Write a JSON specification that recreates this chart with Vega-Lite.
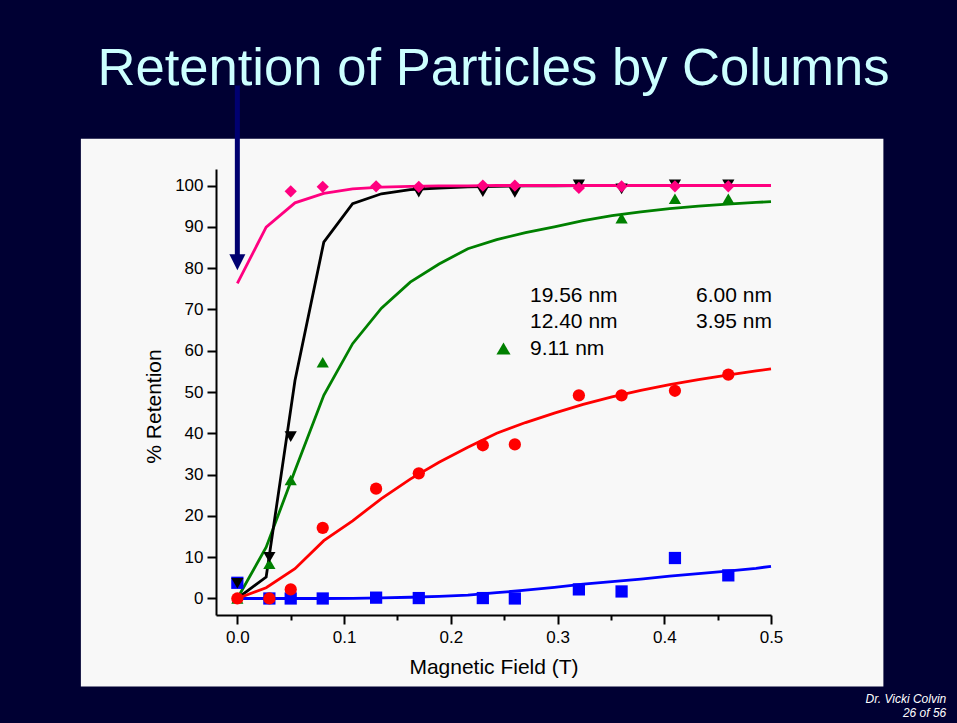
{
  "$schema": "https://vega.github.io/schema/vega-lite/v6.json",
  "width": 555,
  "height": 446,
  "autosize": {"type": "none"},
  "padding": {"left": 216, "top": 169, "right": 186, "bottom": 108},
  "background": "#000033",
  "title": {"text": "Retention of Particles by Columns", "fontSize": 52.6, "font": "Liberation Sans", "fontWeight": "normal", "color": "#ccffff", "anchor": "middle", "frame": "group", "baseline": "alphabetic", "offset": -55},
  "config": {
    "view": {"stroke": null},
    "axis": {"zindex": 1, "labelFont": "Liberation Sans", "titleFont": "Liberation Sans", "labelColor": "#000000", "titleColor": "#000000", "domainColor": "#000000", "tickColor": "#000000", "domainWidth": 2, "tickWidth": 2, "grid": false, "labelFontSize": 17, "titleFontSize": 21, "titleFontWeight": "normal", "labelOverlap": false, "labelFlush": false},
    "legend": {"zindex": 1}
  },
  "datasets": {
    "pts": [
      {"s": "3.95 nm", "x": 0, "y": 3.8},
      {"s": "3.95 nm", "x": 0.03, "y": 0},
      {"s": "3.95 nm", "x": 0.05, "y": 0},
      {"s": "3.95 nm", "x": 0.08, "y": 0},
      {"s": "3.95 nm", "x": 0.13, "y": 0.2},
      {"s": "3.95 nm", "x": 0.17, "y": 0.1},
      {"s": "3.95 nm", "x": 0.23, "y": 0.1},
      {"s": "3.95 nm", "x": 0.26, "y": 0},
      {"s": "3.95 nm", "x": 0.32, "y": 2.2},
      {"s": "3.95 nm", "x": 0.36, "y": 1.7},
      {"s": "3.95 nm", "x": 0.41, "y": 9.8},
      {"s": "3.95 nm", "x": 0.46, "y": 5.6},
      {"s": "9.11 nm", "x": 0, "y": 0},
      {"s": "9.11 nm", "x": 0.03, "y": 8.4},
      {"s": "9.11 nm", "x": 0.05, "y": 28.7},
      {"s": "9.11 nm", "x": 0.08, "y": 57.2},
      {"s": "9.11 nm", "x": 0.36, "y": 92.1},
      {"s": "9.11 nm", "x": 0.41, "y": 96.8},
      {"s": "9.11 nm", "x": 0.46, "y": 96.8},
      {"s": "12.40 nm", "x": 0, "y": 3.7},
      {"s": "12.40 nm", "x": 0.03, "y": 10.0},
      {"s": "12.40 nm", "x": 0.05, "y": 39.2},
      {"s": "12.40 nm", "x": 0.17, "y": 98.4},
      {"s": "12.40 nm", "x": 0.23, "y": 98.5},
      {"s": "12.40 nm", "x": 0.26, "y": 98.3},
      {"s": "12.40 nm", "x": 0.32, "y": 100.2},
      {"s": "12.40 nm", "x": 0.36, "y": 99.2},
      {"s": "12.40 nm", "x": 0.41, "y": 100.2},
      {"s": "12.40 nm", "x": 0.46, "y": 100.2},
      {"s": "6.00 nm", "x": 0, "y": 0},
      {"s": "6.00 nm", "x": 0.03, "y": 0},
      {"s": "6.00 nm", "x": 0.05, "y": 2.2},
      {"s": "6.00 nm", "x": 0.08, "y": 17.1},
      {"s": "6.00 nm", "x": 0.13, "y": 26.6},
      {"s": "6.00 nm", "x": 0.17, "y": 30.3},
      {"s": "6.00 nm", "x": 0.23, "y": 37.1},
      {"s": "6.00 nm", "x": 0.26, "y": 37.3},
      {"s": "6.00 nm", "x": 0.32, "y": 49.2},
      {"s": "6.00 nm", "x": 0.36, "y": 49.2},
      {"s": "6.00 nm", "x": 0.41, "y": 50.3},
      {"s": "6.00 nm", "x": 0.46, "y": 54.2},
      {"s": "19.56 nm", "x": 0.05, "y": 98.6},
      {"s": "19.56 nm", "x": 0.08, "y": 99.7},
      {"s": "19.56 nm", "x": 0.13, "y": 99.8},
      {"s": "19.56 nm", "x": 0.17, "y": 99.7},
      {"s": "19.56 nm", "x": 0.23, "y": 100},
      {"s": "19.56 nm", "x": 0.26, "y": 100},
      {"s": "19.56 nm", "x": 0.32, "y": 99.4},
      {"s": "19.56 nm", "x": 0.36, "y": 99.8},
      {"s": "19.56 nm", "x": 0.41, "y": 99.8},
      {"s": "19.56 nm", "x": 0.46, "y": 99.8}
    ],
    "fit": [
      {"s": "3.95 nm", "x": 0, "y": 0},
      {"s": "3.95 nm", "x": 0.027, "y": 0},
      {"s": "3.95 nm", "x": 0.054, "y": 0},
      {"s": "3.95 nm", "x": 0.081, "y": 0},
      {"s": "3.95 nm", "x": 0.108, "y": 0.05},
      {"s": "3.95 nm", "x": 0.135, "y": 0.15},
      {"s": "3.95 nm", "x": 0.162, "y": 0.3},
      {"s": "3.95 nm", "x": 0.189, "y": 0.5},
      {"s": "3.95 nm", "x": 0.216, "y": 0.8},
      {"s": "3.95 nm", "x": 0.243, "y": 1.4},
      {"s": "3.95 nm", "x": 0.27, "y": 2.0},
      {"s": "3.95 nm", "x": 0.297, "y": 2.7},
      {"s": "3.95 nm", "x": 0.324, "y": 3.5},
      {"s": "3.95 nm", "x": 0.351, "y": 4.1},
      {"s": "3.95 nm", "x": 0.378, "y": 4.7},
      {"s": "3.95 nm", "x": 0.405, "y": 5.4},
      {"s": "3.95 nm", "x": 0.432, "y": 6.0},
      {"s": "3.95 nm", "x": 0.459, "y": 6.6},
      {"s": "3.95 nm", "x": 0.486, "y": 7.3},
      {"s": "3.95 nm", "x": 0.5, "y": 7.8},
      {"s": "9.11 nm", "x": 0, "y": 0},
      {"s": "9.11 nm", "x": 0.027, "y": 12.4},
      {"s": "9.11 nm", "x": 0.054, "y": 31.0},
      {"s": "9.11 nm", "x": 0.081, "y": 49.2},
      {"s": "9.11 nm", "x": 0.108, "y": 61.7},
      {"s": "9.11 nm", "x": 0.135, "y": 70.3},
      {"s": "9.11 nm", "x": 0.162, "y": 76.6},
      {"s": "9.11 nm", "x": 0.189, "y": 81.0},
      {"s": "9.11 nm", "x": 0.216, "y": 84.7},
      {"s": "9.11 nm", "x": 0.243, "y": 86.9},
      {"s": "9.11 nm", "x": 0.27, "y": 88.6},
      {"s": "9.11 nm", "x": 0.297, "y": 90.0},
      {"s": "9.11 nm", "x": 0.324, "y": 91.5},
      {"s": "9.11 nm", "x": 0.351, "y": 92.7},
      {"s": "9.11 nm", "x": 0.378, "y": 93.6},
      {"s": "9.11 nm", "x": 0.405, "y": 94.4},
      {"s": "9.11 nm", "x": 0.432, "y": 95.0},
      {"s": "9.11 nm", "x": 0.459, "y": 95.5},
      {"s": "9.11 nm", "x": 0.486, "y": 95.9},
      {"s": "9.11 nm", "x": 0.5, "y": 96.1},
      {"s": "12.40 nm", "x": 0, "y": 0},
      {"s": "12.40 nm", "x": 0.027, "y": 5.2},
      {"s": "12.40 nm", "x": 0.054, "y": 52.8},
      {"s": "12.40 nm", "x": 0.081, "y": 86.3},
      {"s": "12.40 nm", "x": 0.108, "y": 95.6},
      {"s": "12.40 nm", "x": 0.135, "y": 98.0},
      {"s": "12.40 nm", "x": 0.162, "y": 99.0},
      {"s": "12.40 nm", "x": 0.189, "y": 99.4},
      {"s": "12.40 nm", "x": 0.216, "y": 99.7},
      {"s": "12.40 nm", "x": 0.243, "y": 99.8},
      {"s": "12.40 nm", "x": 0.27, "y": 99.9},
      {"s": "12.40 nm", "x": 0.297, "y": 99.9},
      {"s": "12.40 nm", "x": 0.324, "y": 100},
      {"s": "12.40 nm", "x": 0.351, "y": 100},
      {"s": "12.40 nm", "x": 0.378, "y": 100},
      {"s": "12.40 nm", "x": 0.405, "y": 100},
      {"s": "12.40 nm", "x": 0.432, "y": 100},
      {"s": "12.40 nm", "x": 0.459, "y": 100},
      {"s": "12.40 nm", "x": 0.486, "y": 100},
      {"s": "12.40 nm", "x": 0.5, "y": 100},
      {"s": "6.00 nm", "x": 0, "y": 0},
      {"s": "6.00 nm", "x": 0.027, "y": 2.6},
      {"s": "6.00 nm", "x": 0.054, "y": 7.2},
      {"s": "6.00 nm", "x": 0.081, "y": 14.0},
      {"s": "6.00 nm", "x": 0.108, "y": 18.8},
      {"s": "6.00 nm", "x": 0.135, "y": 24.2},
      {"s": "6.00 nm", "x": 0.162, "y": 28.9},
      {"s": "6.00 nm", "x": 0.189, "y": 33.0},
      {"s": "6.00 nm", "x": 0.216, "y": 36.6},
      {"s": "6.00 nm", "x": 0.243, "y": 40.0},
      {"s": "6.00 nm", "x": 0.27, "y": 42.6},
      {"s": "6.00 nm", "x": 0.297, "y": 44.9},
      {"s": "6.00 nm", "x": 0.324, "y": 47.0},
      {"s": "6.00 nm", "x": 0.351, "y": 48.8},
      {"s": "6.00 nm", "x": 0.378, "y": 50.4},
      {"s": "6.00 nm", "x": 0.405, "y": 51.8},
      {"s": "6.00 nm", "x": 0.432, "y": 53.0},
      {"s": "6.00 nm", "x": 0.459, "y": 54.1},
      {"s": "6.00 nm", "x": 0.486, "y": 55.1},
      {"s": "6.00 nm", "x": 0.5, "y": 55.6},
      {"s": "19.56 nm", "x": 0, "y": 76.3},
      {"s": "19.56 nm", "x": 0.027, "y": 89.9},
      {"s": "19.56 nm", "x": 0.054, "y": 95.8},
      {"s": "19.56 nm", "x": 0.081, "y": 98.1},
      {"s": "19.56 nm", "x": 0.108, "y": 99.2},
      {"s": "19.56 nm", "x": 0.135, "y": 99.6},
      {"s": "19.56 nm", "x": 0.162, "y": 99.8},
      {"s": "19.56 nm", "x": 0.189, "y": 99.9},
      {"s": "19.56 nm", "x": 0.216, "y": 99.9},
      {"s": "19.56 nm", "x": 0.243, "y": 100},
      {"s": "19.56 nm", "x": 0.27, "y": 100},
      {"s": "19.56 nm", "x": 0.297, "y": 100},
      {"s": "19.56 nm", "x": 0.324, "y": 100},
      {"s": "19.56 nm", "x": 0.351, "y": 100},
      {"s": "19.56 nm", "x": 0.378, "y": 100},
      {"s": "19.56 nm", "x": 0.405, "y": 100},
      {"s": "19.56 nm", "x": 0.432, "y": 100},
      {"s": "19.56 nm", "x": 0.459, "y": 100},
      {"s": "19.56 nm", "x": 0.486, "y": 100},
      {"s": "19.56 nm", "x": 0.5, "y": 100}
    ]
  },
  "layer": [
    {
      "data": {"values": [{}]},
      "mark": {"type": "rect", "color": "#f8f8f8", "clip": false},
      "encoding": {
        "x": {"datum": -0.1466, "type": "quantitative", "scale": {"domain": [-0.02, 0.5], "nice": false, "zero": false}},
        "x2": {"datum": 0.6053},
        "y": {"datum": 111.3, "type": "quantitative", "scale": {"domain": [-4, 104], "nice": false, "zero": false}},
        "y2": {"datum": -21.3}
      }
    },
    {
      "data": {"name": "fit"},
      "mark": {"type": "line", "strokeWidth": 2.8},
      "encoding": {
        "x": {"field": "x", "type": "quantitative", "scale": {"domain": [-0.02, 0.5], "nice": false, "zero": false}, "title": "Magnetic Field (T)",
          "axis": {"zindex": 1, "values": [0, 0.05, 0.1, 0.15, 0.2, 0.25, 0.3, 0.35, 0.4, 0.45, 0.5],
            "labelExpr": "round(datum.value*100) % 10 === 0 ? format(datum.value, '.1f') : ''",
            "tickSize": {"condition": {"test": "round(datum.value*100) % 10 !== 0", "value": 5}, "value": 9},
            "labelPadding": 5, "titlePadding": 11}},
        "y": {"field": "y", "type": "quantitative", "scale": {"domain": [-4, 104], "nice": false, "zero": false}, "title": "% Retention",
          "axis": {"zindex": 1, "values": [0, 5, 10, 15, 20, 25, 30, 35, 40, 45, 50, 55, 60, 65, 70, 75, 80, 85, 90, 95, 100],
            "labelExpr": "datum.value % 10 === 0 ? datum.label : ''",
            "tickSize": {"condition": {"test": "datum.value % 10 !== 0", "value": 5}, "value": 9},
            "labelPadding": 4, "titlePadding": 10, "titleY": 237}},
        "color": {"field": "s", "type": "nominal",
          "scale": {"domain": ["19.56 nm", "12.40 nm", "9.11 nm", "6.00 nm", "3.95 nm"], "range": ["#ff0080", "#000000", "#008000", "#ff0000", "#0000ff"]},
          "legend": {"orient": "none", "legendX": 277, "legendY": 115.8, "columns": 2, "columnPadding": 41, "rowPadding": 4.6, "title": null, "padding": 0, "zindex": 1,
            "labelFont": "Liberation Sans", "labelFontSize": 21, "labelColor": "#000000", "labelOffset": 16, "symbolSize": 200, "symbolStrokeWidth": 0, "symbolType": "triangle-up",
            "encode": {"symbols": {"update": {"opacity": {"signal": "datum.value === '9.11 nm' ? 1 : 0"}, "shape": {"value": "triangle-up"}, "size": {"value": 200}, "fill": {"scale": "color", "field": "value"}, "strokeWidth": {"value": 0}}}}}}
      }
    },
    {
      "data": {"name": "pts"},
      "mark": {"type": "point", "filled": true, "size": 150, "opacity": 1},
      "encoding": {
        "x": {"field": "x", "type": "quantitative", "scale": {"domain": [-0.02, 0.5], "nice": false, "zero": false}, "title": "Magnetic Field (T)"},
        "y": {"field": "y", "type": "quantitative", "scale": {"domain": [-4, 104], "nice": false, "zero": false}, "title": "% Retention"},
        "color": {"field": "s", "type": "nominal",
          "scale": {"domain": ["19.56 nm", "12.40 nm", "9.11 nm", "6.00 nm", "3.95 nm"], "range": ["#ff0080", "#000000", "#008000", "#ff0000", "#0000ff"]},
          "legend": {"orient": "none", "legendX": 277, "legendY": 115.8, "columns": 2, "columnPadding": 41, "rowPadding": 4.6, "title": null, "padding": 0, "zindex": 1,
            "labelFont": "Liberation Sans", "labelFontSize": 21, "labelColor": "#000000", "labelOffset": 16, "symbolSize": 200, "symbolStrokeWidth": 0, "symbolType": "triangle-up",
            "encode": {"symbols": {"update": {"opacity": {"signal": "datum.value === '9.11 nm' ? 1 : 0"}, "shape": {"value": "triangle-up"}, "size": {"value": 200}, "fill": {"scale": "color", "field": "value"}, "strokeWidth": {"value": 0}}}}}},
        "shape": {"field": "s", "type": "nominal",
          "scale": {"domain": ["19.56 nm", "12.40 nm", "9.11 nm", "6.00 nm", "3.95 nm"], "range": ["diamond", "triangle-down", "triangle-up", "circle", "square"]}}
      }
    },
    {
      "data": {"values": [{}]},
      "mark": {"type": "rule", "color": "#000070", "strokeWidth": 5, "clip": false},
      "encoding": {
        "x": {"datum": 0, "type": "quantitative"},
        "y": {"datum": 124.2, "type": "quantitative"},
        "y2": {"datum": 82.8}
      }
    },
    {
      "data": {"values": [{}]},
      "mark": {"type": "point", "shape": "M-1,-1L1,-1L0,1Z", "size": 256, "filled": true, "color": "#000070", "opacity": 1, "clip": false},
      "encoding": {
        "x": {"datum": 0, "type": "quantitative"},
        "y": {"datum": 81.4, "type": "quantitative"}
      }
    },
    {
      "data": {"values": [{}]},
      "mark": {"type": "text", "text": ["Dr. Vicki Colvin", "26 of 56"], "align": "right", "baseline": "alphabetic", "font": "Liberation Sans", "fontStyle": "italic", "fontSize": 12, "lineHeight": 14, "color": "#ffffff", "clip": false},
      "encoding": {
        "x": {"datum": 0.6642, "type": "quantitative"},
        "y": {"datum": -25.4, "type": "quantitative"}
      }
    }
  ]
}
